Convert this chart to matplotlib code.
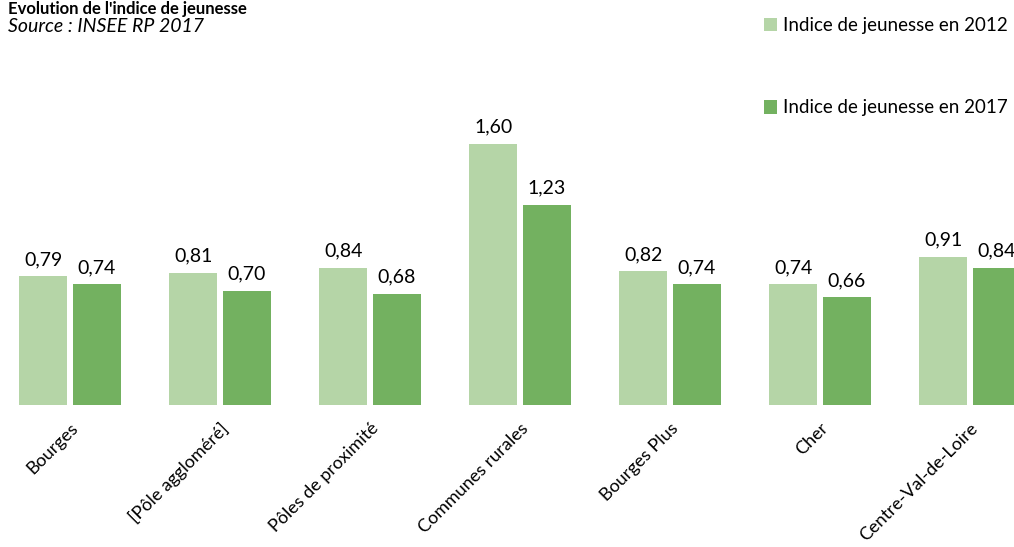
import numpy as np
import matplotlib.pyplot as plt

# Data
categories = ["Bourges", "[Pôle aggloméré]", "Pôles de proximité", "Communes rurales",
              "Bourges Plus", "Cher", "Centre-Val-de-Loire"]
indice_2012 = [0.79, 0.81, 0.84, 1.60, 0.82, 0.74, 0.91]
indice_2017 = [0.74, 0.70, 0.68, 1.23, 0.74, 0.66, 0.84]
series_labels = ["Indice de jeunesse en 2012", "Indice de jeunesse en 2017"]

plt.rcParams['font.family'] = ['Lato', 'DejaVu Sans']

light_green = "#b5d5a7"
dark_green = "#73b160"

fig = plt.figure(figsize=(10.14, 5.47), dpi=100)
ax = fig.add_axes([0, 0.2596, 1, 0.7404])

x = np.arange(len(categories))
width = 0.32
gap = 0.035
bars1 = ax.bar(x - (width + gap) / 2, indice_2012, width, color=light_green, label=series_labels[0])
bars2 = ax.bar(x + (width + gap) / 2, indice_2017, width, color=dark_green, label=series_labels[1])

fmt = lambda v: f"{v:.2f}".replace(".", ",")
ax.bar_label(bars1, labels=[fmt(v) for v in indice_2012], padding=6, fontsize=14)
ax.bar_label(bars2, labels=[fmt(v) for v in indice_2017], padding=6, fontsize=14)

ax.set_xlim(-70 / 150, 944 / 150)
ax.set_ylim(0, 405 / 163)

ax.set_xticks(x)
ax.set_xticklabels(categories, rotation=45, ha='right', rotation_mode='anchor', fontsize=13)
ax.tick_params(axis='x', length=0, pad=11)
ax.set_yticks([])
for s in ax.spines.values():
    s.set_visible(False)

ax.legend(loc='upper left', bbox_to_anchor=(0.737, 1.0), bbox_transform=fig.transFigure,
          frameon=False, fontsize=13.5, labelspacing=3.5, handlelength=0.7, handleheight=0.7,
          handletextpad=0.3)

fig.text(0.008, 0.999, "Evolution de l'indice de jeunesse", fontsize=12, fontweight='bold',
         ha='left', va='top')
fig.text(0.008, 0.952, "Source : INSEE RP 2017", fontsize=14, style='italic',
         ha='left', va='center')

fig.savefig("out.png", dpi=100)
